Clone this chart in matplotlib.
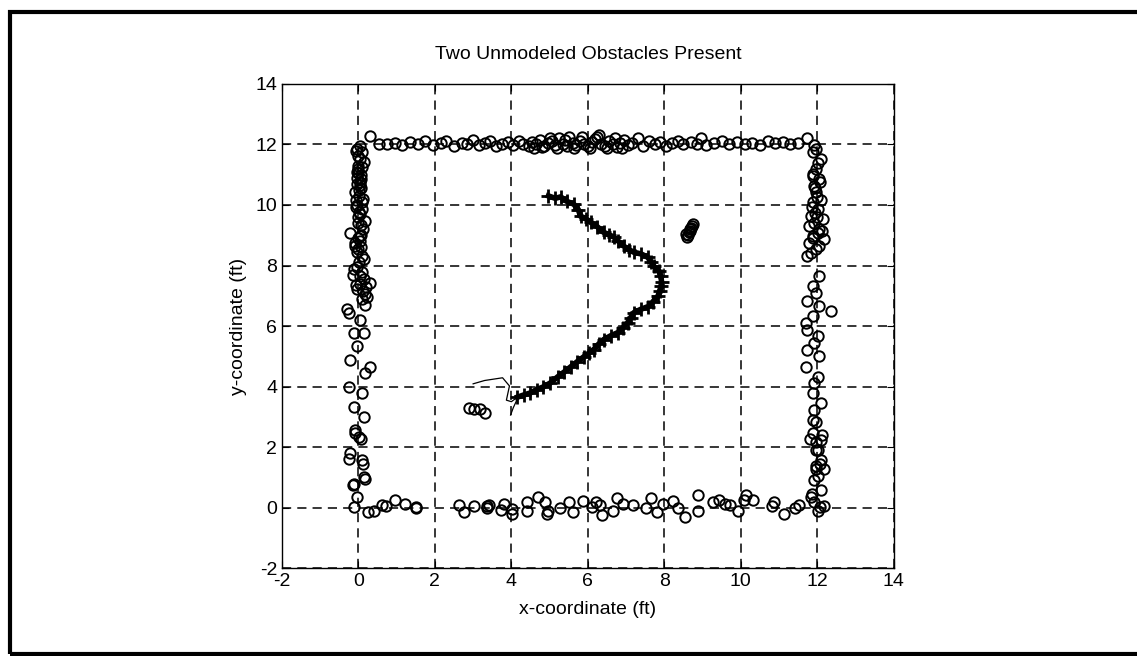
import matplotlib.pyplot as plt
from matplotlib.patches import Rectangle

plt.rcParams['font.family'] = ['Liberation Sans', 'DejaVu Sans']
plt.rcParams['axes.unicode_minus'] = False

# sonar returns along the walls (ft)
left_x = [0.05, -0.04, 0.09, -0.02, 0.14, 0.0, -0.04, 0.06, 0.05, -0.03, -0.08, 0.08,
          0.02, 0.09, -0.05, 0.01, 0.10, 0.18, -0.02, -0.21, 0.05, 0.12, -0.08, 0.03,
          0.09, -0.05, -0.12, 0.02, 0.14, 0.31, -0.04, 0.05, 0.09, 0.20, 0.18, -0.30,
          -0.25, 0.05, -0.12, 0.14, -0.04, -0.21, 0.31, 0.18, -0.25, 0.09, -0.12, 0.14,
          -0.08, 0.01, -0.21, 0.09, 0.14, -0.12, -0.04, -0.12, -0.24, -0.09, 0.06, 0.11,
          -0.14, 0.16, 0.0, 0.04, -0.06, 0.08, -0.02,
          -0.06, 0.03, 0.10, -0.01, 0.07, -0.05, 0.02, 0.12, -0.07, 0.04, -0.02, 0.08,
          0.00, -0.10, 0.06, 0.15, -0.04, 0.10, -0.15, 0.03, 0.12, 0.22, -0.06, 0.16]
left_y = [11.95, 11.85, 11.75, 11.62, 11.42, 11.30, 11.10, 11.00, 10.76, 10.90, 10.42, 10.55,
          10.30, 10.09, 10.00, 9.76, 9.88, 9.48, 9.60, 9.09, 8.98, 9.20, 8.65, 8.80,
          8.32, 8.45, 7.88, 8.10, 7.54, 7.43, 7.21, 7.65, 6.88, 7.30, 7.05, 6.55,
          6.43, 6.21, 5.77, 5.77, 5.33, 4.88, 4.66, 4.44, 4.00, 3.78, 3.33, 3.00,
          2.56, 2.34, 1.79, 1.57, 1.01, 0.79, 0.34, 0.01, 1.60, 2.46, 2.28, 1.45,
          0.73, 0.95, 11.20, 10.65, 9.95, 9.35, 8.55,
          11.80, 11.52, 11.25, 11.05, 10.85, 10.70, 10.48, 10.20, 10.15, 9.70, 9.40, 9.00,
          8.90, 8.75, 8.60, 8.20, 7.95, 7.80, 7.70, 7.40, 7.15, 6.95, 7.35, 6.70]

top_x = [0.31, 0.55, 0.75, 0.95, 1.15, 1.35, 1.55, 1.75, 1.95, 2.15, 2.30, 2.50, 2.70,
         2.85, 3.00, 3.15, 3.30, 3.45, 3.60, 3.75, 3.90, 4.05, 4.20, 4.30, 4.45, 4.55,
         4.65, 4.75, 4.85, 4.95, 5.05, 5.15, 5.25, 5.35, 5.45, 5.50, 5.60, 5.70, 5.80,
         5.90, 6.00, 6.10, 6.20, 6.30, 6.35, 6.45, 6.55, 6.65, 6.75, 6.85, 6.95, 7.05,
         7.15, 7.30, 7.45, 7.60, 7.75, 7.90, 8.05, 8.20, 8.35, 8.50, 8.70, 8.85, 8.95,
         9.10, 9.30, 9.50, 9.70, 9.90, 10.10, 10.30, 10.50, 10.70, 10.90, 11.10, 11.30,
         11.50, 11.74, 4.60, 4.80, 5.00, 5.20, 5.40, 5.65, 5.85, 6.05, 6.25, 6.50, 6.70, 6.90]
top_y = [12.28, 12.02, 12.00, 12.05, 11.98, 12.08, 12.00, 12.10, 11.98, 12.05, 12.12, 11.96,
         12.06, 12.00, 12.14, 11.98, 12.04, 12.10, 11.96, 12.02, 12.08, 11.98, 12.12, 12.02,
         11.95, 12.08, 12.00, 12.15, 11.96, 12.05, 12.10, 11.98, 12.20, 12.02, 11.94, 12.25,
         12.06, 11.98, 12.12, 12.00, 11.95, 12.08, 12.18, 12.30, 12.02, 11.96, 12.10, 12.00,
         11.92, 12.06, 12.14, 11.98, 12.04, 12.20, 11.95, 12.12, 12.02, 12.08, 11.96, 12.05,
         12.10, 12.00, 12.08, 12.02, 12.22, 11.98, 12.05, 12.12, 12.02, 12.08, 12.00, 12.06,
         11.98, 12.10, 12.04, 12.08, 12.00, 12.06, 12.20, 11.90, 11.92, 12.22, 11.90, 12.14,
         11.88, 12.24, 11.90, 12.26, 11.88, 12.20, 11.90]

right_x = [11.92, 11.88, 12.09, 11.96, 11.88, 12.05, 11.92, 11.96, 11.88, 12.01, 11.83, 12.14,
           11.92, 11.79, 12.01, 11.88, 12.18, 11.79, 11.96, 11.83, 11.74, 12.05, 11.88,
           11.96, 11.74, 12.05, 12.36, 11.88, 11.70, 11.74, 12.01, 11.92, 11.74, 12.05, 11.70,
           12.01, 11.92, 11.88, 12.09, 11.92, 11.88, 11.88, 12.09, 11.96, 12.09, 11.96, 11.92,
           12.09, 11.83, 11.87, 11.92, 12.07, 12.02, 12.17, 11.82, 11.97, 12.12, 12.02, 11.97,
           12.07, 12.17, 12.02, 11.97, 12.00, 11.95, 12.04,
           12.02, 11.90, 12.06, 11.94, 12.10, 11.86, 12.00, 12.12, 11.90, 12.04, 11.98]
right_y = [11.97, 11.75, 11.53, 11.20, 11.03, 10.86, 10.64, 10.42, 10.09, 9.87, 9.65, 9.53,
           9.42, 9.31, 9.09, 8.98, 8.87, 8.76, 8.54, 8.43, 8.32, 7.66, 7.32, 7.10, 6.82,
           6.66, 6.49, 6.32, 6.10, 5.88, 5.66, 5.44, 5.22, 5.00, 4.66, 4.33, 4.11, 3.78,
           3.44, 3.22, 2.89, 2.45, 2.23, 1.89, 1.56, 1.29, 0.90, 0.57, 0.34, 0.45, 0.20,
           0.02, -0.12, 0.06, 2.28, 2.17, 2.39, 1.89, 1.39, 1.45, 1.28, 1.06, 2.84, 10.25,
           9.75, 9.20,
           11.40, 10.95, 10.75, 10.55, 10.15, 9.95, 9.60, 9.15, 8.90, 8.65, 11.85]

bot_x = [0.26, 0.41, 0.61, 0.71, 0.96, 1.21, 1.51, 1.51, 2.62, 2.77, 3.02, 3.37, 3.37, 3.42,
         3.72, 3.82, 4.02, 4.02, 4.42, 4.42, 4.69, 4.87, 4.92, 4.97, 5.27, 5.52, 5.62, 5.87,
         6.12, 6.22, 6.32, 6.37, 6.67, 6.77, 6.92, 7.17, 7.52, 7.65, 7.82, 7.97, 8.22, 8.37,
         8.53, 8.88, 8.88, 9.28, 9.43, 9.58, 9.73, 9.93, 10.08, 10.13, 10.33, 10.83, 10.88,
         11.13, 11.43, 11.53]
bot_y = [-0.16, -0.10, 0.08, 0.05, 0.24, 0.13, 0.02, -0.03, 0.08, -0.16, 0.05, 0.05, 0.00, 0.08,
         -0.07, 0.11, -0.04, -0.20, 0.18, -0.12, 0.36, 0.18, -0.20, -0.10, 0.00, 0.18, -0.13, 0.21,
         0.02, 0.18, 0.08, -0.25, -0.10, 0.32, 0.12, 0.08, -0.03, 0.33, -0.13, 0.12, 0.22, -0.03,
         -0.30, 0.43, -0.12, 0.18, 0.24, 0.12, 0.08, -0.10, 0.24, 0.40, 0.24, 0.05, 0.18,
         -0.22, 0.00, 0.08]

# the two unmodeled obstacles
obst_x = [8.60, 8.62, 8.65, 8.68, 8.70, 8.72, 8.66, 8.58, 8.75, 2.88, 3.02, 3.18, 3.32]
obst_y = [8.95, 9.00, 9.10, 9.20, 9.25, 9.32, 9.15, 9.05, 9.38, 3.30, 3.25, 3.25, 3.12]

# estimated robot path
path_x = [4.97, 5.15, 5.29, 5.45, 5.63, 5.75, 5.81, 5.95, 6.07, 6.25, 6.41, 6.55, 6.68, 6.80,
          6.94, 7.08, 7.20, 7.40, 7.57, 7.66, 7.73, 7.85, 7.91, 7.93, 7.91, 7.88, 7.83, 7.70,
          7.57, 7.38, 7.20, 7.12, 7.04, 6.92, 6.78, 6.60, 6.41, 6.28, 6.15, 6.02, 5.89, 5.72,
          5.55, 5.38, 5.21, 5.02, 4.84, 4.66, 4.50, 4.32, 4.16]
path_y = [10.30, 10.22, 10.27, 10.12, 10.03, 9.85, 9.63, 9.55, 9.43, 9.28, 9.10, 9.02, 8.94, 8.80,
          8.64, 8.52, 8.44, 8.38, 8.27, 8.10, 7.97, 7.82, 7.64, 7.45, 7.31, 7.15, 6.98, 6.80,
          6.64, 6.55, 6.44, 6.28, 6.11, 5.95, 5.78, 5.68, 5.55, 5.40, 5.22, 5.10, 4.98, 4.82,
          4.65, 4.48, 4.32, 4.12, 3.99, 3.90, 3.79, 3.72, 3.65]
thin_x = [3.00, 3.30, 3.77, 3.95, 3.87, 4.00, 4.16]
thin_y = [4.09, 4.20, 4.29, 4.02, 3.55, 3.50, 3.65]
branch_x = [4.16, 4.05, 3.98]
branch_y = [3.60, 3.30, 3.06]

xticks = [-2, 0, 2, 4, 6, 8, 10, 12, 14]
yticks = [-2, 0, 2, 4, 6, 8, 10, 12, 14]

fig = plt.figure(figsize=(11.37, 6.56), dpi=100)
fig.patches.append(Rectangle((0.009, 0.003), 1.1, 0.978, transform=fig.transFigure,
                             fill=False, lw=3, ec='black'))
ax = fig.add_axes([0.248, 0.134, 0.538, 0.738])

mk = dict(ls='none', marker='o', mfc='none', mec='black', ms=7.5, mew=1.4)
ax.plot(left_x, left_y, **mk)
ax.plot(top_x, top_y, **mk)
ax.plot(right_x, right_y, **mk)
ax.plot(bot_x, bot_y, **mk)
ax.plot(obst_x, obst_y, **mk)

ax.plot(path_x, path_y, color='black', lw=4, marker='+', ms=10, mew=2)
ax.plot(thin_x, thin_y, color='black', lw=0.9)
ax.plot(branch_x, branch_y, color='black', lw=0.9)

ax.set_xlim(-2, 14)
ax.set_ylim(-2, 14)
ax.set_xticks(xticks)
ax.set_yticks(yticks)
ax.grid(True, color='black', ls=(0, (6, 4)), lw=1.1)
ax.tick_params(direction='in', top=True, right=True, labelsize=14, length=5)
for s in ax.spines.values():
    s.set_linewidth(1.0)

ax.set_title('Two Unmodeled Obstacles Present', fontsize=14, pad=18)
ax.set_xlabel('x-coordinate (ft)', fontsize=14, labelpad=8)
ax.set_ylabel('y-coordinate (ft)', fontsize=14, labelpad=6)

fig.savefig('out.png', dpi=100)
